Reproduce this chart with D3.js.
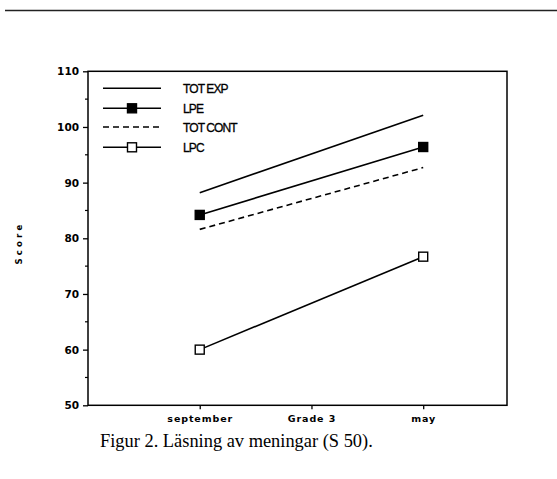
<!DOCTYPE html>
<html><head><meta charset="utf-8">
<script src="https://cdn.jsdelivr.net/npm/d3@7"></script>
<style>body{margin:0;background:#fff}svg{display:block}</style>
</head><body>
<script>
const timePoints = ["september", "Grade 3", "may"];
const timePos = [1, 2, 3];
const seriesNames = ["TOT EXP", "LPE", "TOT CONT", "LPC"];
const totExp = [88.2, 102.1];
const lpe = [84.2, 96.4];
const totCont = [81.6, 92.7];
const lpc = [60.0, 76.7];
const yTicks = [50, 60, 70, 80, 90, 100, 110];

(function () {
const W = 557, H = 479;
const svg = d3.select("body").append("svg").attr("width", W).attr("height", H);
const pL = 88, pR = 507, pT = 71.3, pB = 405.3;
const x = d3.scaleLinear().domain([0, 3.75]).range([pL, pR]);
const y = d3.scaleLinear().domain([50, 110]).range([pB, pT]);

// page rule
svg.append("line").attr("x1", 5).attr("x2", 557).attr("y1", 10.5).attr("y2", 10.5)
  .attr("stroke", "#222").attr("stroke-width", 1.5);

// frame
svg.append("rect").attr("x", pL).attr("y", pT).attr("width", pR - pL).attr("height", pB - pT)
  .attr("fill", "none").attr("stroke", "#000").attr("stroke-width", 1.5);

// y axis
const yAxis = svg.append("g").attr("transform", `translate(${pL},0)`)
  .call(d3.axisLeft(y).tickValues(yTicks).tickSize(5).tickPadding(4));
yAxis.select(".domain").remove();
yAxis.selectAll("line").attr("stroke", "#000").attr("stroke-width", 1.3);
yAxis.selectAll("text").attr("font-family", "DejaVu Sans").attr("font-weight", "bold")
  .attr("font-size", 10.5).attr("fill", "#000");
const minor = d3.range(55, 110, 10);
svg.append("g").selectAll("line").data(minor).join("line")
  .attr("x1", pL - 3).attr("x2", pL).attr("y1", d => y(d)).attr("y2", d => y(d))
  .attr("stroke", "#000").attr("stroke-width", 1.2);

// x axis
const xAxis = svg.append("g").attr("transform", `translate(0,${pB})`)
  .call(d3.axisBottom(x).tickValues(timePos).tickFormat((d, i) => timePoints[i]).tickSize(4).tickPadding(6));
xAxis.select(".domain").remove();
xAxis.selectAll("line").attr("stroke", "#000").attr("stroke-width", 1.3);
xAxis.selectAll("text").attr("font-family", "DejaVu Sans").attr("font-size", 9.5)
  .attr("font-weight", "bold").attr("fill", "#000").attr("letter-spacing", 0.9);

// y label
svg.append("text").attr("transform", `translate(22,243) rotate(-90)`)
  .attr("text-anchor", "middle").attr("font-family", "DejaVu Sans").attr("font-weight", "bold")
  .attr("fill", "#000").attr("font-size", 8.5).attr("letter-spacing", 3.2).text("Score");

// series
const xs = [timePos[0], timePos[2]];
const line = d3.line().x((d, i) => x(xs[i])).y(d => y(d));
const series = [
  {name: seriesNames[0], data: totExp, dash: null, marker: null},
  {name: seriesNames[1], data: lpe, dash: null, marker: "filled"},
  {name: seriesNames[2], data: totCont, dash: "6,4", marker: null},
  {name: seriesNames[3], data: lpc, dash: null, marker: "open"}
];
series.forEach(s => {
  svg.append("path").datum(s.data).attr("d", line).attr("fill", "none")
    .attr("stroke", "#000").attr("stroke-width", 1.6)
    .attr("stroke-dasharray", s.dash);
  if (s.marker) {
    svg.append("g").selectAll("rect").data(s.data).join("rect")
      .attr("x", (d, i) => x(xs[i]) - 4.5).attr("y", d => y(d) - 4.5)
      .attr("width", 9).attr("height", 9)
      .attr("fill", s.marker === "filled" ? "#000" : "#fff")
      .attr("stroke", "#000").attr("stroke-width", 1.4);
  }
});

// legend
const legY = [88.3, 108.3, 127, 147.3];
series.forEach((s, i) => {
  const g = svg.append("g");
  g.append("line").attr("x1", 103).attr("x2", 161).attr("y1", legY[i]).attr("y2", legY[i])
    .attr("stroke", "#000").attr("stroke-width", 1.6).attr("stroke-dasharray", s.dash);
  if (s.marker) {
    g.append("rect").attr("x", 132 - 4.5).attr("y", legY[i] - 4.5).attr("width", 9).attr("height", 9)
      .attr("fill", s.marker === "filled" ? "#000" : "#fff").attr("stroke", "#000").attr("stroke-width", 1.4);
  }
  g.append("text").attr("x", 183).attr("y", legY[i] + 4.5).attr("font-family", "Liberation Sans")
    .attr("font-size", 12).attr("letter-spacing", -0.9).attr("stroke", "#000").attr("stroke-width", 0.3)
    .text(s.name);
});

// caption
svg.append("text").attr("x", 100).attr("y", 447).attr("font-family", "Liberation Serif")
  .attr("font-size", 18.4).text("Figur 2. Läsning av meningar (S 50).");
})();
</script>
</body></html>
